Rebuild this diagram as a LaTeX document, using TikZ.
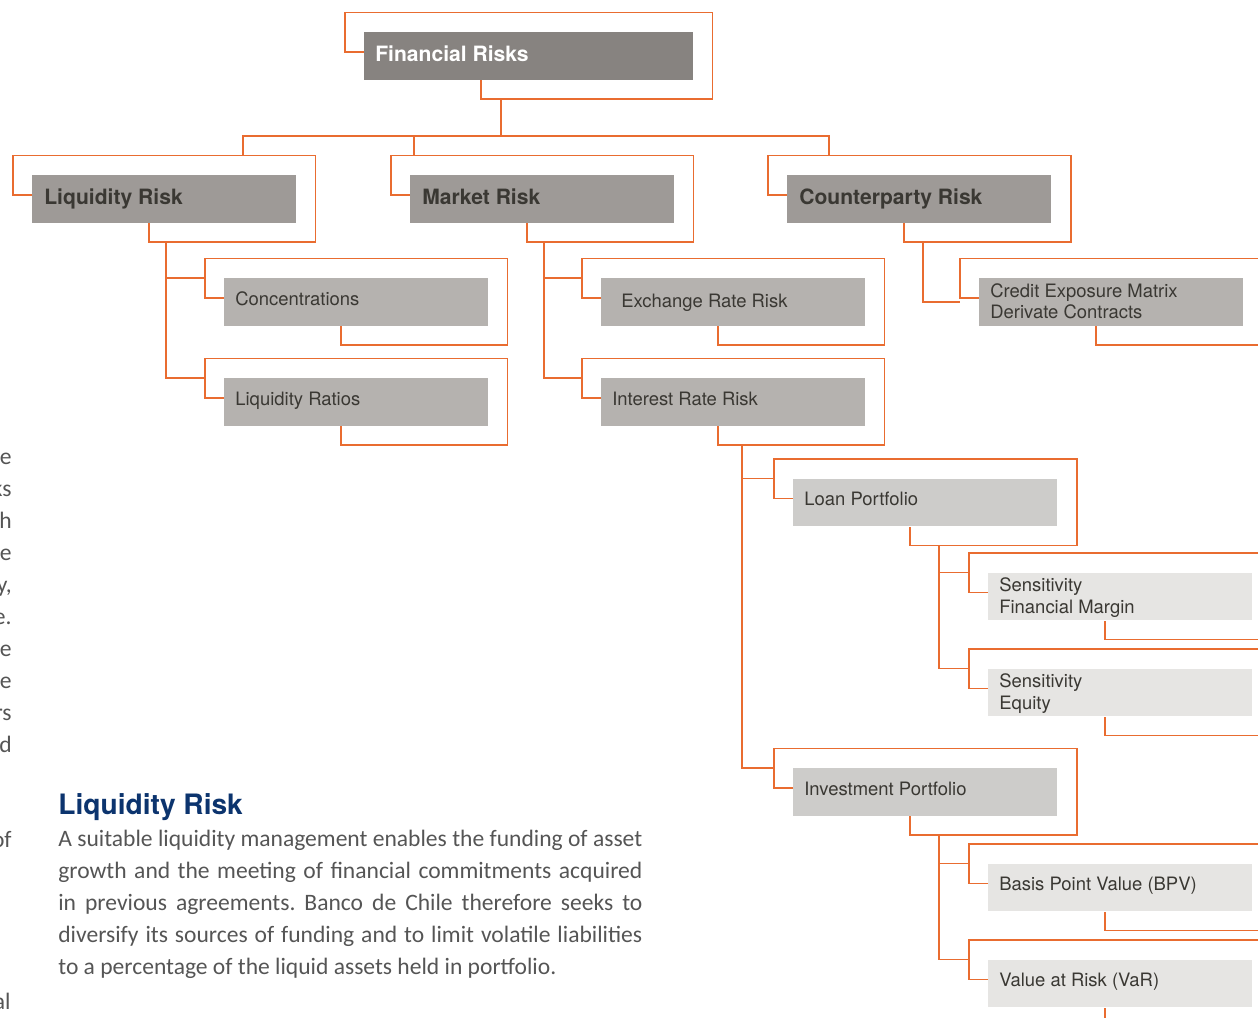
\documentclass[tikz,border=0pt]{standalone}
\usepackage{fontspec}
\setmainfont{TeX Gyre Heros}
\newfontfamily\bodyfont{Carlito}
\usepackage{xcolor}
\usetikzlibrary{positioning,calc}

\definecolor{riskorange}{RGB}{233,108,48}
\definecolor{riskdark}{RGB}{58,56,51}
\definecolor{greyA}{RGB}{135,131,128}
\definecolor{greyB}{RGB}{158,154,151}
\definecolor{greyC}{RGB}{181,178,175}
\definecolor{greyD}{RGB}{205,204,202}
\definecolor{greyE}{RGB}{230,229,227}
\definecolor{headblue}{RGB}{12,52,110}
\definecolor{bodygrey}{RGB}{85,85,85}

\newcommand{\risklines}[2]{\begin{tabular}[t]{@{}l@{}}#1\\#2\end{tabular}}

\tikzset{
  box/.style={rectangle, inner sep=0pt, anchor=north west, minimum height=47.5*0.2mm},
  link/.style={riskorange, line width=0.9pt},
  lvlA/.style={fill=greyA},
  lvlB/.style={fill=greyB},
  lvlC/.style={fill=greyC},
  lvlD/.style={fill=greyD},
  lvlE/.style={fill=greyE},
  lvlA txt/.style={inner sep=0pt, anchor=base west, text=white, font=\bfseries\fontsize{12}{14}\selectfont},
  lvlB txt/.style={inner sep=0pt, anchor=base west, text=riskdark, font=\bfseries\fontsize{12}{14}\selectfont},
  lvlC txt/.style={inner sep=0pt, anchor=base west, text=riskdark, font=\fontsize{10.5}{12.2}\selectfont},
  lvlD txt/.style={lvlC txt},
  lvlE txt/.style={lvlC txt},
  heading/.style={inner sep=0pt, anchor=base west, text=headblue, font=\bfseries\fontsize{16}{18}\selectfont},
  bodytext/.style={inner sep=0pt, anchor=base west, text=bodygrey, text width=584*0.2mm, align=justify,
    font=\bodyfont\fontsize{13.4}{18.2}\selectfont\frenchspacing},
  frag/.style={inner sep=0pt, anchor=base east, text=bodygrey, font=\bodyfont\fontsize{13.4}{18.2}\selectfont}
}

\begin{document}
\begin{tikzpicture}[x=0.2mm, y=-0.2mm]
\useasboundingbox (0,0) rectangle (1258,1018);

% Boxes
\foreach \nm/\bx/\by/\bw/\lvl/\ix/\iy/\txt in {
    fin/364/32/329/lvlA/11/29.5/Financial Risks,
    liq/32/175/264/lvlB/12/29.5/Liquidity Risk,
    mkt/410/175/264/lvlB/12/29.5/Market Risk,
    cpt/787/175/264/lvlB/12/29.5/Counterparty Risk,
    conc/224/278/264/lvlC/11/28/Concentrations,
    lrat/224/378/264/lvlC/11/28/Liquidity Ratios,
    exch/601/278/264/lvlC/20/30/Exchange Rate Risk,
    irate/601/378/264/lvlC/11/27.5/Interest Rate Risk,
    cred/979/278/264/lvlC/11/19.5/{\risklines{Credit Exposure Matrix}{Derivate Contracts}},
    loan/793/478.5/264/lvlD/11/27/Loan Portfolio,
    inv/793/768/264/lvlD/11/28/Investment Portfolio,
    sfm/988/572.5/264/lvlE/11/19.5/{\risklines{Sensitivity}{Financial Margin}},
    seq/988/668.5/264/lvlE/11/19.5/{\risklines{Sensitivity}{Equity}},
    bpv/988/863.5/264/lvlE/11/27/Basis Point Value (BPV),
    var/988/959.5/264/lvlE/11/27/Value at Risk (VaR)}
{
    \node[box, \lvl, minimum width=\bw*0.2mm] (\nm) at (\bx,\by) {};
    \node[\lvl\space txt] (\nm-t) at ($(\nm.north west)+(\ix,\iy)$) {\txt};
}

% Frames round the boxes
\foreach \nm in {fin,liq,mkt,cpt,conc,lrat,exch,irate,cred,loan,inv,sfm,seq,bpv,var}
    \draw[link] ($(\nm.north west)+(0,20)$) -- ++(-19,0) |- ($(\nm.north east)+(19,-19.5)$)
        -- ($(\nm.south east)+(19,19)$) -| ($(\nm.south west)+(117,0)$);

% Top bus
\coordinate (bus) at (501,136);
\draw[link] ($(fin.south west)+(137,19)$) -- (bus);
\draw[link] ($(liq.north west)+(211,-19.5)$) |- (bus);
\draw[link] ($(mkt.north west)+(4,-19.5)$) |- (bus);
\draw[link] ($(cpt.north west)+(42,-19.5)$) |- (bus);

% Branches to the children
\foreach \up/\kid/\dx in {liq/conc/134, liq/lrat/134, mkt/exch/134, mkt/irate/134,
    irate/loan/141, irate/inv/141, loan/sfm/146, loan/seq/146, inv/bpv/146, inv/var/146}
    \draw[link] ($(\up.south west)+(\dx,19)$) |- ($(\kid.north west)+(-19,0)$);
\draw[link] ($(cpt.south west)+(136,19)$) |- ($(cred.north west)+(-19,24)$);

% Text below
\node[heading] (lrhead) at (58,815) {Liquidity Risk};
\node[bodytext] (lrbody) at (58,847) {A suitable liquidity management enables the funding of asset\linebreak
    growth and the meeting of financial commitments acquired\linebreak
    in previous agreements. Banco de Chile therefore seeks to\linebreak
    diversify its sources of funding and to limit volatile liabilities\linebreak
    to a percentage of the liquid assets held in portfolio.};

% Cut column at the left edge
\foreach \frag [count=\k from 0] in {e,ks,h,e,{y,},e.,e,e,rs,d}
    \node[frag] (frag\k) at (12,465+32*\k) {\frag};
\node[frag] (fragof) at (12,848) {of};
\node[frag] (fragal) at (11,1010) {al};
\end{tikzpicture}
\end{document}
